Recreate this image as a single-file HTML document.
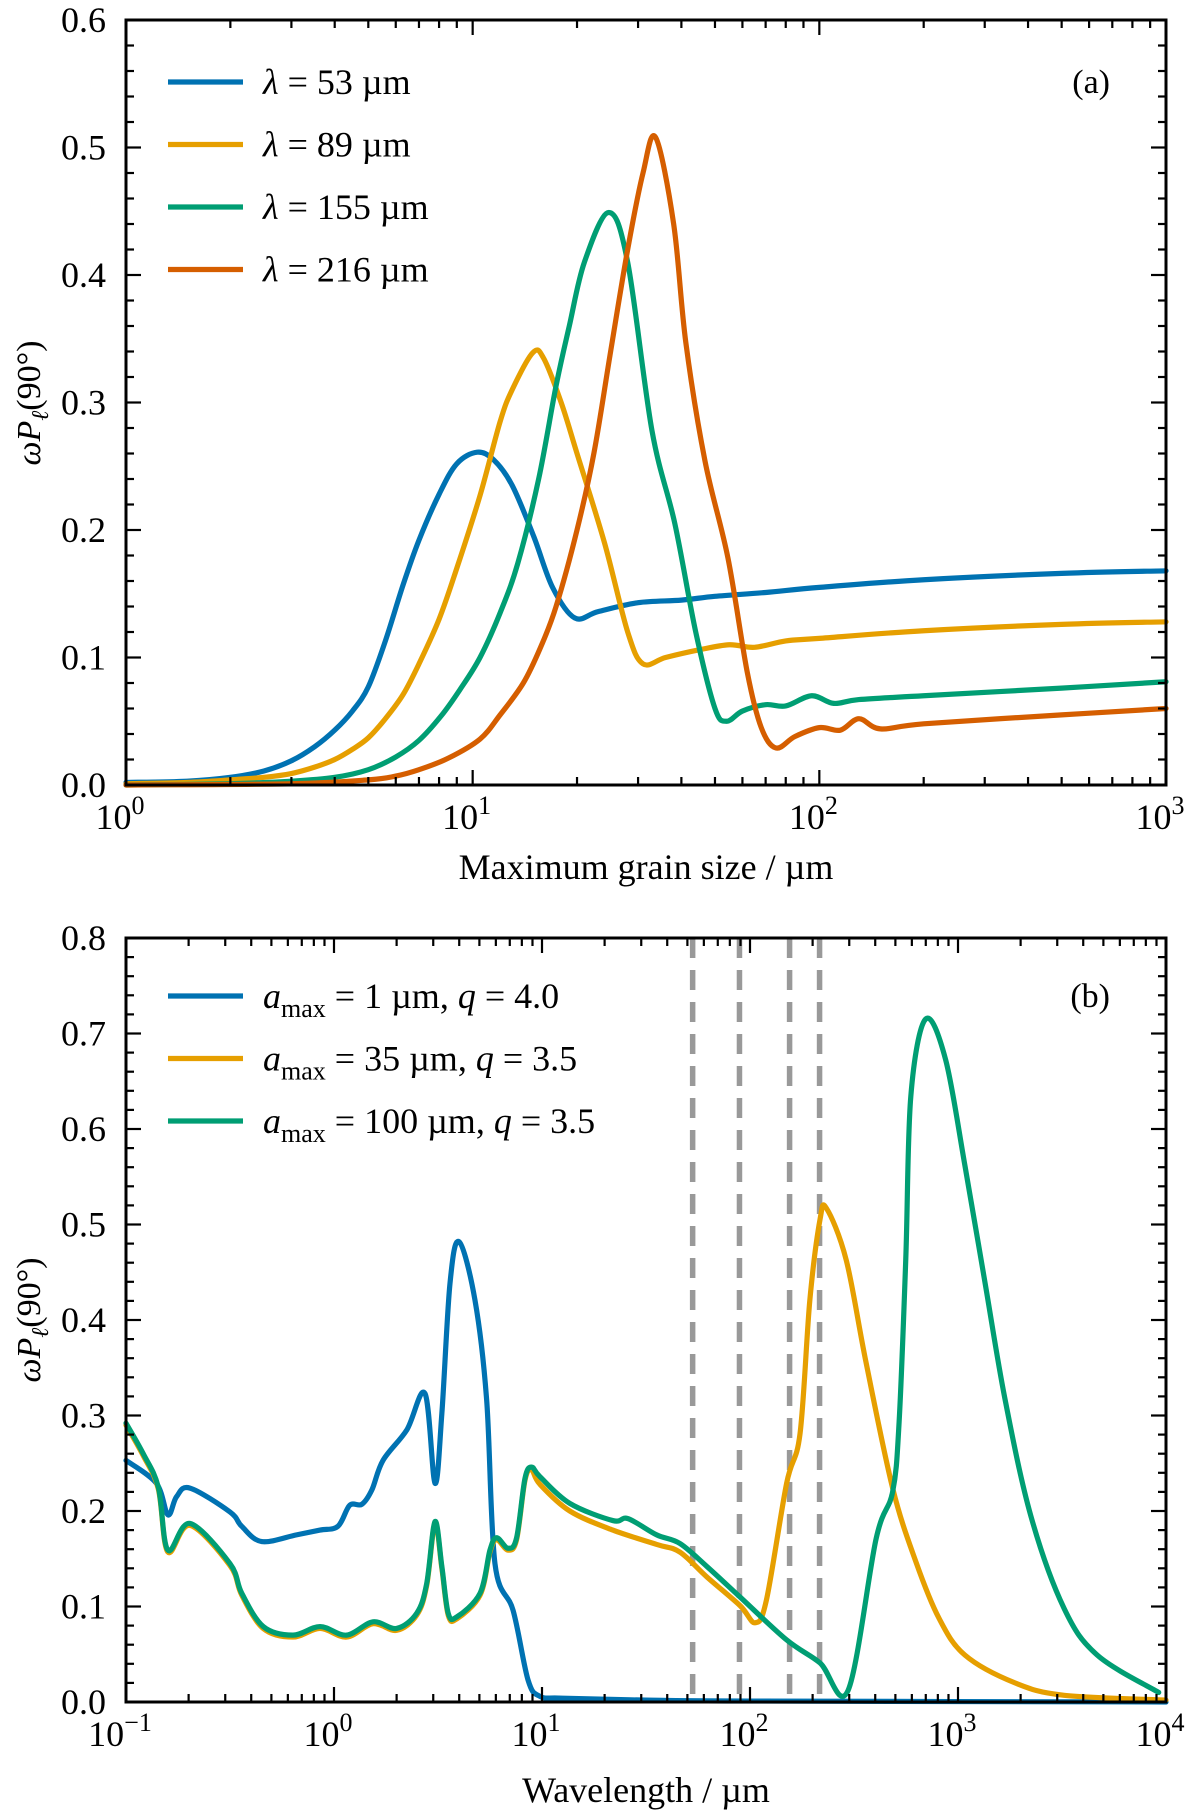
<!DOCTYPE html>
<html><head><meta charset="utf-8"><style>
html,body{margin:0;padding:0;background:#fff;}
svg{display:block;}
text{font-family:"Liberation Serif",serif;fill:#000;}
</style></head><body>
<svg id="fig" width="1200" height="1814" viewBox="0 0 1200 1814" xmlns="http://www.w3.org/2000/svg"></svg>
<script>
// ---- Panel (a) data: x = maximum grain size (µm) ----
const aBlueX = [1,1.5,2,2.5,3,3.5,4,4.5,5,5.6,6.3,7,8,9,10.3,11.5,13,15,17,19.7,23,30,40,50,70,100,200,500,1000];
const aBlueY = [0.002,0.003,0.006,0.011,0.019,0.03,0.043,0.058,0.077,0.113,0.157,0.192,0.228,0.252,0.261,0.255,0.235,0.195,0.155,0.131,0.136,0.143,0.145,0.148,0.151,0.155,0.161,0.166,0.168];
const aOrangeX = [1,1.5,2,2.5,3,3.5,4,4.5,5,5.6,6.3,7,8,9,10.5,12,13,14.9,16,18,20,24,28,31,36,45,55,65,80,100,200,500,1000];
const aOrangeY = [0.001,0.002,0.004,0.006,0.009,0.014,0.02,0.028,0.037,0.052,0.071,0.095,0.13,0.17,0.227,0.285,0.31,0.339,0.335,0.3,0.26,0.19,0.12,0.095,0.1,0.106,0.11,0.108,0.113,0.115,0.121,0.126,0.128];
const aTealX = [1,2,3,4,5,6,7,8.1,9.2,10.5,12,13.5,15.5,17.4,19,21,24.7,28,32.9,38.3,44,50,54,60,70,80,95,110,130,200,500,1000];
const aTealY = [0,0.001,0.003,0.006,0.012,0.022,0.035,0.054,0.075,0.1,0.135,0.174,0.24,0.313,0.36,0.41,0.449,0.41,0.278,0.205,0.12,0.06,0.05,0.058,0.063,0.062,0.07,0.064,0.067,0.07,0.076,0.081];
const aRedX = [1,3,5,6,7,8.5,10.5,12,14,15.7,17.4,20,22.4,25,28,31,33.7,38,41.2,46.8,54.5,62,68,75,85,100,115,130,150,200,500,1000];
const aRedY = [0,0.001,0.004,0.007,0.012,0.021,0.036,0.055,0.08,0.108,0.14,0.2,0.261,0.34,0.42,0.48,0.508,0.44,0.347,0.254,0.178,0.088,0.045,0.029,0.038,0.045,0.043,0.052,0.044,0.048,0.055,0.06];
const aLegend = ["53","89","155","216"];
const aYTicks = ["0.0","0.1","0.2","0.3","0.4","0.5","0.6"];

// ---- Panel (b) data: x = wavelength (µm) ----
const bBlueX = [0.1,0.14,0.159,0.175,0.203,0.316,0.36,0.449,0.66,0.857,1.045,1.19,1.36,1.52,1.72,2.24,2.74,3.06,3.3,3.61,3.99,4.76,5.42,5.94,7.26,8.57,9.77,12.6,31.6,100,10000];
const bBlueY = [0.253,0.229,0.196,0.215,0.224,0.199,0.184,0.168,0.175,0.18,0.184,0.206,0.207,0.222,0.253,0.285,0.323,0.229,0.302,0.438,0.482,0.421,0.316,0.145,0.096,0.023,0.006,0.004,0.002,0.001,0];
const bOrangeX = [0.1,0.121,0.143,0.159,0.203,0.316,0.36,0.457,0.635,0.857,1.15,1.54,2.0,2.5,2.79,3.06,3.3,3.54,3.89,5.04,5.62,6.05,6.87,7.55,8.28,8.91,9.77,13.6,21.9,35.6,46,62,89.5,106,120,150,174,194,217,233,290,361,485,627,809,1081,1879,3236,10000];
const bOrangeY = [0.29,0.258,0.223,0.157,0.185,0.143,0.112,0.077,0.068,0.077,0.068,0.082,0.075,0.091,0.122,0.187,0.14,0.091,0.087,0.112,0.157,0.17,0.159,0.17,0.232,0.243,0.228,0.2,0.18,0.165,0.157,0.131,0.101,0.083,0.107,0.229,0.281,0.421,0.505,0.517,0.463,0.356,0.224,0.147,0.088,0.049,0.02,0.007,0.002];
const bTealX = [0.1,0.121,0.143,0.159,0.203,0.316,0.36,0.457,0.635,0.857,1.15,1.54,2.0,2.5,2.79,3.06,3.3,3.54,3.89,5.04,5.62,6.05,6.87,7.55,8.28,8.91,9.77,13.6,21.9,25.9,35.6,46,62,89.5,150,217,296,404,485,521,561,593,698,871,1081,1349,1683,2239,3236,4677,9226];
const bTealY = [0.292,0.26,0.225,0.159,0.187,0.145,0.114,0.079,0.07,0.079,0.07,0.084,0.077,0.093,0.124,0.189,0.142,0.093,0.089,0.114,0.159,0.172,0.161,0.172,0.234,0.246,0.236,0.208,0.19,0.192,0.175,0.166,0.142,0.11,0.065,0.041,0.012,0.171,0.22,0.293,0.464,0.634,0.715,0.673,0.561,0.439,0.317,0.195,0.098,0.049,0.01];
const bDashed = [53,89,155,216];
const bLegendA = ["1","35","100"];
const bLegendQ = ["4.0","3.5","3.5"];
const bYTicks = ["0.0","0.1","0.2","0.3","0.4","0.5","0.6","0.7","0.8"];

const NS="http://www.w3.org/2000/svg";
const svg=document.getElementById('fig');
const COL={blue:"#0072B2",orange:"#E69F00",teal:"#009E73",red:"#D55E00"};
function mk(tag,attrs,parent){const e=document.createElementNS(NS,tag);for(const k in attrs)e.setAttribute(k,attrs[k]);(parent||svg).appendChild(e);return e;}

function makeAxes(L,R,T,B,logMin,logMax,yMax){
  return {
    x:v=>L+(Math.log10(v)-logMin)/(logMax-logMin)*(R-L),
    y:v=>B-v/yMax*(B-T), L,R,T,B,logMin,logMax,yMax
  };
}
function smoothPath(pts){
  let d=`M${pts[0][0].toFixed(2)},${pts[0][1].toFixed(2)}`;
  for(let i=0;i<pts.length-1;i++){
    const p0=pts[Math.max(0,i-1)],p1=pts[i],p2=pts[i+1],p3=pts[Math.min(pts.length-1,i+2)];
    const t=1/6;
    const c1x=p1[0]+(p2[0]-p0[0])*t,c1y=p1[1]+(p2[1]-p0[1])*t;
    const c2x=p2[0]-(p3[0]-p1[0])*t,c2y=p2[1]-(p3[1]-p1[1])*t;
    d+=` C${c1x.toFixed(2)},${c1y.toFixed(2)} ${c2x.toFixed(2)},${c2y.toFixed(2)} ${p2[0].toFixed(2)},${p2[1].toFixed(2)}`;
  }
  return d;
}
function drawSeries(ax,xs,ys,color,name,g){
  const pts=xs.map((x,i)=>[ax.x(x),ax.y(ys[i])]);
  const p=mk('path',{d:smoothPath(pts),fill:'none',stroke:color,'stroke-width':5.2,'stroke-linejoin':'round','stroke-linecap':'round'},g);
  
  
}
function drawFrame(ax,yTicks,yStep,panel){
  const g=mk('g',{});
  
  
  const nMinor=Math.round(ax.yMax/(yStep/5));
  for(let i=0;i<=nMinor;i++){
    const v=i*yStep/5, y=ax.y(v), major=i%5===0, len=major?15:8;
    mk('line',{x1:ax.L,x2:ax.L+len,y1:y,y2:y,stroke:'#000','stroke-width':2.2},g);
    mk('line',{x1:ax.R,x2:ax.R-len,y1:y,y2:y,stroke:'#000','stroke-width':2.2},g);
  }
  yTicks.forEach((lab,i)=>{
    const t=mk('text',{x:ax.L-20,y:ax.y(i*yStep)+12,'text-anchor':'end','font-size':36},g);
    t.textContent=lab;
    
    
  });
  for(let d=ax.logMin;d<=ax.logMax;d++){
    for(let m=1;m<=9;m++){
      if(d===ax.logMax&&m>1)break;
      const x=ax.x(m*Math.pow(10,d)), len=m===1?15:8;
      mk('line',{x1:x,x2:x,y1:ax.B,y2:ax.B-len,stroke:'#000','stroke-width':2.2},g);
      mk('line',{x1:x,x2:x,y1:ax.T,y2:ax.T+len,stroke:'#000','stroke-width':2.2},g);
    }
    const t=mk('text',{x:ax.x(Math.pow(10,d))-6,y:ax.B+44,'text-anchor':'middle','font-size':36},g);
    
    
    t.appendChild(document.createTextNode('10'));
    const s=mk('tspan',{dy:-15,'font-size':26},t);
    s.textContent=String(d).replace('-','\u2212');
  }
  mk('rect',{x:ax.L,y:ax.T,width:ax.R-ax.L,height:ax.B-ax.T,fill:'none',stroke:'#000','stroke-width':3},g);
}
function yLabel(cx,cy,panel){
  const t=mk('text',{x:0,y:0,'text-anchor':'middle','font-size':34,transform:`translate(${cx},${cy}) rotate(-90)`});
  
  
  t.innerHTML='<tspan font-style="italic">ωP</tspan><tspan font-style="italic" font-size="24" dy="8">ℓ</tspan><tspan dy="-8">(90°)</tspan>';
}

// ===== Panel (a) =====
const A=makeAxes(126,1166,20,785,0,3,0.6);
const ga=mk('g',{});  
drawSeries(A,aBlueX,aBlueY,COL.blue,'line-53um',ga);
drawSeries(A,aOrangeX,aOrangeY,COL.orange,'line-89um',ga);
drawSeries(A,aTealX,aTealY,COL.teal,'line-155um',ga);
drawSeries(A,aRedX,aRedY,COL.red,'line-216um',ga);
drawFrame(A,aYTicks,0.1,'panel-a');
yLabel(40,403,'panel-a');
{const t=mk('text',{x:646,y:879,'text-anchor':'middle','font-size':36});t.textContent='Maximum grain size / µm';
}
{const t=mk('text',{x:1110,y:93,'text-anchor':'end','font-size':34});t.textContent='(a)';
}
const aCols=[COL.blue,COL.orange,COL.teal,COL.red];
aLegend.forEach((lab,i)=>{
  const y=82+i*62.5;
  const g=mk('g',{});
  
  
  mk('line',{x1:168,x2:243,y1:y,y2:y,stroke:aCols[i],'stroke-width':5.2},g);
  const t=mk('text',{x:263,y:y+12,'font-size':36},g);
  t.innerHTML='<tspan font-style="italic">λ</tspan> = '+lab+' µm';
});

// ===== Panel (b) =====
const B=makeAxes(126,1166,938,1702,-1,4,0.8);
const gd=mk('g',{});  
bDashed.forEach(w=>{
  const l=mk('line',{x1:B.x(w),x2:B.x(w),y1:B.T,y2:B.B,stroke:'#999','stroke-width':5.5,'stroke-dasharray':'20,12'},gd);
  
  
});
const gb=mk('g',{});  
drawSeries(B,bBlueX,bBlueY,COL.blue,'line-amax-1um',gb);
drawSeries(B,bOrangeX,bOrangeY,COL.orange,'line-amax-35um',gb);
drawSeries(B,bTealX,bTealY,COL.teal,'line-amax-100um',gb);
drawFrame(B,bYTicks,0.1,'panel-b');
yLabel(40,1320,'panel-b');
{const t=mk('text',{x:646,y:1802,'text-anchor':'middle','font-size':36});t.textContent='Wavelength / µm';
}
{const t=mk('text',{x:1110,y:1007,'text-anchor':'end','font-size':34});t.textContent='(b)';
}
const bCols=[COL.blue,COL.orange,COL.teal];
bLegendA.forEach((lab,i)=>{
  const y=996+i*62.5;
  const g=mk('g',{});
  
  
  mk('line',{x1:168,x2:243,y1:y,y2:y,stroke:bCols[i],'stroke-width':5.2},g);
  const t=mk('text',{x:263,y:y+12,'font-size':36},g);
  t.innerHTML='<tspan font-style="italic">a</tspan><tspan font-size="26" dy="9">max</tspan><tspan dy="-9"> = '+lab+' µm, </tspan><tspan font-style="italic">q</tspan> = '+bLegendQ[i];
});
</script>
</body></html>
